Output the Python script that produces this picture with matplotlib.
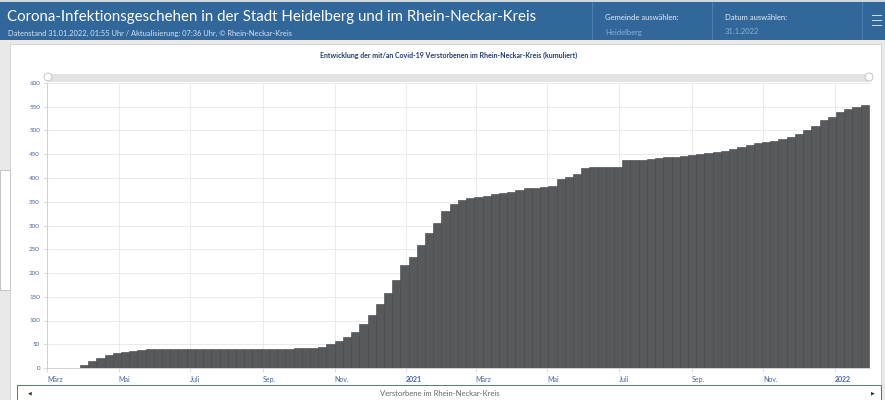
import numpy as np
import pandas as pd
import matplotlib
matplotlib.use('Agg')
import matplotlib.pyplot as plt
from matplotlib.patches import Rectangle, Ellipse

plt.rcParams['font.family'] = ['Lato', 'DejaVu Sans']

# weekly cumulative deaths (Rhein-Neckar-Kreis), weeks starting 2020-03-01
start = '2020-03-01'
deaths = [0, 0, 0, 1, 7, 15, 22, 28, 31, 33,
          35, 38, 39, 40, 40, 40, 40, 40, 40, 40,
          40, 40, 40, 40, 40, 40, 40, 40, 41, 41,
          42, 42, 43, 44, 50, 57, 66, 76, 92, 111,
          135, 158, 186, 217, 233, 259, 284, 306, 330, 346,
          354, 358, 360, 362, 366, 369, 371, 375, 378, 379,
          381, 384, 397, 402, 408, 421, 423, 423, 423, 424,
          438, 438, 438, 439, 442, 444, 445, 446, 448, 450,
          452, 454, 456, 462, 466, 469, 473, 475, 478, 482,
          487, 493, 500, 510, 522, 528, 539, 546, 549, 553]
weeks = pd.date_range(start, periods=len(deaths), freq='7D')

tick_dates = pd.date_range('2020-03-01', '2022-01-01', freq='2MS')
tick_labels = ['März', 'Mai', 'Juli', 'Sep.', 'Nov.', '2021',
               'März', 'Mai', 'Juli', 'Sep.', 'Nov.', '2022']
y_ticks = list(range(0, 601, 50))

title = 'Corona-Infektionsgeschehen in der Stadt Heidelberg und im Rhein-Neckar-Kreis'
subtitle = 'Datenstand 31.01.2022, 01:55 Uhr / Aktualisierung: 07:36 Uhr, © Rhein-Neckar-Kreis'
chart_title = 'Entwicklung der mit/an Covid-19 Verstorbenen im Rhein-Neckar-Kreis (kumuliert)'
x_label = 'Verstorbene im Rhein-Neckar-Kreis'

W, H = 885, 400
fig = plt.figure(figsize=(W / 100, H / 100), dpi=100)
fig.patch.set_facecolor('#e9e9e9')


def fx(x):
    return x / W


def fy(y):
    return 1 - y / H


def prect(x0, y0, x1, y1, **kw):
    fig.patches.append(Rectangle((fx(x0), fy(y1)), fx(x1 - x0), (y1 - y0) / H,
                                 transform=fig.transFigure, **kw))


# header bar
blue = '#31679a'
prect(0, 0, W, 40, facecolor=blue, edgecolor='none')
prect(0, 0, W, 2, facecolor='#cfd6dd', edgecolor='none')
for sx in [592, 712, 862]:
    prect(sx, 2, sx + 1, 40, facecolor='#4a7fb0', edgecolor='none')
fig.text(fx(7), fy(17), title, color='white', fontsize=10.8, va='center')
fig.text(fx(8), fy(33), subtitle, color='#d6e2ee', fontsize=5.4, va='center')
fig.text(fx(605), fy(17), 'Gemeinde auswählen:', color='#e8eef5', fontsize=5.5, va='center')
fig.text(fx(605), fy(32), 'Heidelberg', color='#8fb1d3', fontsize=5.5, va='center')
fig.text(fx(725), fy(17), 'Datum auswählen:', color='#e8eef5', fontsize=5.5, va='center')
fig.text(fx(725), fy(32), '31.1.2022', color='#8fb1d3', fontsize=5.5, va='center')
for hy in [15, 20, 25]:
    prect(872, hy, 882, hy + 1, facecolor='#d0dcea', edgecolor='none')

# content panel
prect(10, 44, 881, 400, facecolor='white', edgecolor='#cfcfcf', linewidth=0.6)
prect(0, 170, 10, 290, facecolor='white', edgecolor='#bdbdbd', linewidth=0.6)
prect(17, 385, 881, 401, facecolor='none', edgecolor='#3b5998', linewidth=0.6)
fig.text(fx(30), fy(393), '◀', color='#333333', fontsize=3.5, ha='center', va='center')
fig.text(fx(873), fy(393), '▶', color='#333333', fontsize=3.5, ha='center', va='center')

fig.text(fx(449), fy(55), chart_title, color='#1f3b73', fontsize=5, fontweight='bold',
         ha='center', va='center')
fig.text(fx(440), fy(393), x_label, color='#666666', fontsize=5.5, ha='center', va='center')

# range slider above the plot
prect(47, 74, 870, 82, facecolor='#e3e3e3', edgecolor='none')
for cx in [48, 869]:
    fig.patches.append(Ellipse((fx(cx), fy(77)), 8 / W, 8 / H, transform=fig.transFigure,
                               facecolor='white', edgecolor='#bbbbbb', linewidth=0.6))

# main chart
ax = fig.add_axes([fx(47), fy(368), fx(870) - fx(47), (368 - 83) / H])
ax.set_zorder(5)
ax.set_facecolor('white')
ax.bar(weeks, deaths, width=7, align='edge', color='#58595b',
       edgecolor='#414244', linewidth=0.4, zorder=3)
ax.set_xlim(pd.Timestamp('2020-03-01'), pd.Timestamp('2022-01-31'))
ax.set_ylim(0, 600)

ax.set_yticks(y_ticks)
ax.set_yticklabels([str(v) for v in y_ticks])
ax.set_xticks(tick_dates)
ax.set_xticklabels(tick_labels)
for lab, txt in zip(ax.get_xticklabels(), tick_labels):
    lab.set_horizontalalignment('left')
    if txt.startswith('20'):
        lab.set_fontweight('bold')
        lab.set_color('#1f3b73')

ax.tick_params(axis='y', labelsize=4.5, labelcolor='#4b62a3', length=3, width=0.5,
               color='#cccccc', pad=2)
ax.tick_params(axis='x', labelsize=5, labelcolor='#4b62a3', length=3, width=0.5,
               color='#cccccc', pad=3)
ax.grid(True, color='#e6e6e6', linewidth=0.6, zorder=0)
for side in ['top', 'right']:
    ax.spines[side].set_visible(False)
for side in ['left', 'bottom']:
    ax.spines[side].set_color('#cccccc')
    ax.spines[side].set_linewidth(0.6)

fig.savefig('out.png', dpi=100)
